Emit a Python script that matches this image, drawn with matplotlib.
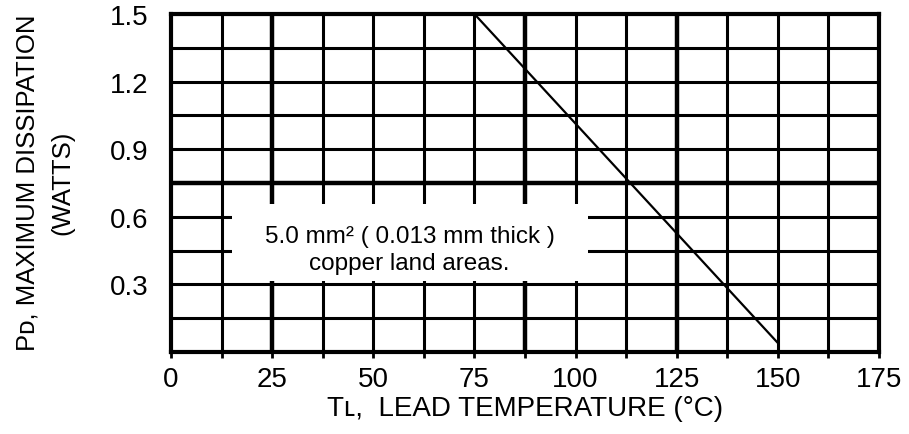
import numpy as np
import matplotlib.pyplot as plt
from matplotlib.patches import Rectangle

# derating curve: lead temperature (C) vs max dissipation (W)
temp_c = [75, 150]
power_w = [1.5, 0.04]

x_ticks = [0, 25, 50, 75, 100, 125, 150, 175]
y_ticks = [0.3, 0.6, 0.9, 1.2, 1.5]
x_grid = np.arange(12.5, 175, 12.5)
y_grid = np.arange(0.15, 1.5, 0.15)
x_heavy = [25, 87.5, 125]
y_heavy = [0.75]

note = "5.0 mm\u00b2 ( 0.013 mm thick )\ncopper land areas."

plt.rcParams['font.family'] = ['Liberation Sans', 'DejaVu Sans']

fig = plt.figure(figsize=(9.09, 4.35), dpi=100)
ax = fig.add_axes([171 / 909, 82 / 435, 708 / 909, 338 / 435])
ax.set_xlim(0, 175)
ax.set_ylim(0, 1.5)

# grid
for x in x_grid:
    lw = 3.2 if x in x_heavy else 2.2
    ax.axvline(x, color='black', lw=lw, zorder=1)
for y in y_grid:
    lw = 3.2 if any(abs(y - h) < 1e-6 for h in y_heavy) else 2.2
    ax.axhline(y, color='black', lw=lw, zorder=1)

# white label box over the grid
ax.add_patch(Rectangle((15, 0.315), 88, 0.34, facecolor='white',
                       edgecolor='none', zorder=2))
ax.text(59, 0.455, note, ha='center', va='center', fontsize=17.5,
        linespacing=1.3, zorder=3)

ax.plot(temp_c, power_w, color='black', lw=1.6, zorder=4)

for s in ax.spines.values():
    s.set_linewidth(3.0)

ax.set_xticks(x_ticks)
ax.set_xticks(x_grid, minor=True)
ax.set_yticks(y_ticks)
ax.tick_params(axis='x', which='both', direction='out', length=4, width=2,
               labelsize=20, pad=6)
ax.tick_params(axis='y', length=0, labelsize=20, pad=16)

fig.text(525 / 909, 1 - 409 / 435, "T\u029f,  LEAD TEMPERATURE (\u00b0C)",
         ha='center', va='center', fontsize=20)
fig.text(45 / 909, 1 - 183 / 435, "P\u1d05, MAXIMUM DISSIPATION\n(WATTS)",
         ha='center', va='center', rotation=90, fontsize=18.5,
         linespacing=1.55, multialignment='center')

fig.savefig('out.png', dpi=100)
